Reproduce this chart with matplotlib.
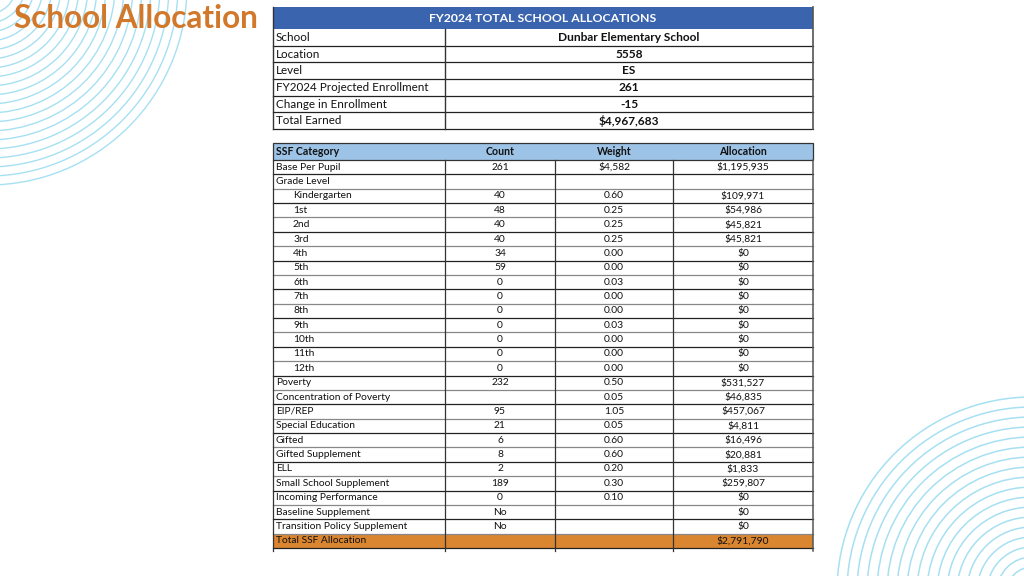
import matplotlib
matplotlib.use("Agg")
import matplotlib.pyplot as plt
from matplotlib.patches import Rectangle, Circle

# ---------------- data ----------------
title = "School Allocation"
top_header = "FY2024 TOTAL SCHOOL ALLOCATIONS"
top_labels = ["School", "Location", "Level", "FY2024 Projected Enrollment",
              "Change in Enrollment", "Total Earned"]
top_values = ["Dunbar Elementary School", "5558", "ES", "261", "-15", "$4,967,683"]

col_headers = ["SSF Category", "Count", "Weight", "Allocation"]
categories = ["Base Per Pupil", "Grade Level", "Kindergarten", "1st", "2nd", "3rd",
              "4th", "5th", "6th", "7th", "8th", "9th", "10th", "11th", "12th",
              "Poverty", "Concentration of Poverty", "EIP/REP", "Special Education",
              "Gifted", "Gifted Supplement", "ELL", "Small School Supplement",
              "Incoming Performance", "Baseline Supplement",
              "Transition Policy Supplement", "Total SSF Allocation"]
indented = ["Kindergarten", "1st", "2nd", "3rd", "4th", "5th", "6th", "7th",
            "8th", "9th", "10th", "11th", "12th"]
counts = ["261", "", "40", "48", "40", "40", "34", "59", "0", "0", "0", "0", "0",
          "0", "0", "232", "", "95", "21", "6", "8", "2", "189", "0", "No", "No", ""]
weights = ["$4,582", "", "0.60", "0.25", "0.25", "0.25", "0.00", "0.00", "0.03",
           "0.00", "0.00", "0.03", "0.00", "0.00", "0.00", "0.50", "0.05", "1.05",
           "0.05", "0.60", "0.60", "0.20", "0.30", "0.10", "", "", ""]
allocations = ["$1,195,935", "", "$109,971", "$54,986", "$45,821", "$45,821", "$0",
               "$0", "$0", "$0", "$0", "$0", "$0", "$0", "$0", "$531,527",
               "$46,835", "$457,067", "$4,811", "$16,496", "$20,881", "$1,833",
               "$259,807", "$0", "$0", "$0", "$2,791,790"]

# ---------------- style ----------------
FONT = "Lato"
ORANGE_T = "#D2782A"
BLUE_H = "#3A64AE"
LBLUE_H = "#9DC3E6"
ORANGE_R = "#DA8530"
ARC = "#A6E0F2"

fig = plt.figure(figsize=(10.24, 5.76), dpi=100)
ax = fig.add_axes([0, 0, 1, 1])
ax.set_xlim(0, 1024)
ax.set_ylim(576, 0)
ax.axis("off")

# background arcs
for r in range(28, 200, 9):
    ax.add_patch(Circle((-12, -14), r, fill=False, ec=ARC, lw=1.0, zorder=0))
for r in range(25, 200, 10):
    ax.add_patch(Circle((1032, 592), r, fill=False, ec=ARC, lw=1.1, zorder=0))

ax.text(14, 19, title, color=ORANGE_T, fontsize=22.7, fontweight="bold",
        family=FONT, va="center", ha="left", zorder=5)

# ---------------- top table ----------------
x0, x1, xs = 273, 813, 445
ax.add_patch(Rectangle((x0, 7), x1 - x0, 22, fc=BLUE_H, ec="none", zorder=1))
ax.text((x0 + x1) / 2, 18.5, top_header, color="white", fontsize=8.8, fontweight="bold",
        family=FONT, ha="center", va="center", zorder=3)
rh = (129 - 29) / len(top_labels)
for i, (lab, val) in enumerate(zip(top_labels, top_values)):
    yt = 29 + i * rh
    ax.text(x0 + 3, yt + rh / 2, lab, fontsize=8.4, family=FONT, color="#111111",
            ha="left", va="center", zorder=3)
    ax.text((xs + x1) / 2, yt + rh / 2, val, fontsize=8.6, family=FONT, color="#111111",
            fontweight="bold", ha="center", va="center", zorder=3)
    ax.plot([x0, x1], [yt + rh, yt + rh], color="#222222", lw=0.9, zorder=2)
ax.plot([x0, x0], [7, 129], color="#333333", lw=1.0, zorder=2)
ax.plot([x1, x1], [7, 129], color="#555555", lw=1.2, zorder=2)
ax.plot([xs, xs], [29, 129], color="#333333", lw=1.0, zorder=2)

# ---------------- SSF table ----------------
cols = [273, 445, 555, 673, 813]
hy0, hy1 = 143, 160
ax.add_patch(Rectangle((cols[0], hy0), cols[-1] - cols[0], hy1 - hy0, fc=LBLUE_H,
                       ec="#333333", lw=0.9, zorder=1))
for j, h in enumerate(col_headers):
    if j == 0:
        ax.text(cols[0] + 3, (hy0 + hy1) / 2, h, fontsize=7.6, fontweight="bold",
                family=FONT, color="#111111", ha="left", va="center", zorder=3)
    else:
        ax.text((cols[j] + cols[j + 1]) / 2, (hy0 + hy1) / 2, h, fontsize=7.6,
                fontweight="bold", family=FONT, color="#111111", ha="center",
                va="center", zorder=3)

n = len(categories)
y_end = 548
rh2 = (y_end - hy1) / n
for i in range(n):
    yt = hy1 + i * rh2
    yc = yt + rh2 / 2
    if i == n - 1:
        ax.add_patch(Rectangle((cols[0], yt), cols[-1] - cols[0], rh2, fc=ORANGE_R,
                               ec="none", zorder=1))
    cat = categories[i]
    xx = cols[0] + (20 if cat in indented else 3)
    ax.text(xx, yc, cat, fontsize=7.35, family=FONT, color="#111111",
            ha="left", va="center", zorder=3)
    for j, v in enumerate([counts[i], weights[i], allocations[i]]):
        ax.text((cols[j + 1] + cols[j + 2]) / 2, yc, v, fontsize=7.35, family=FONT,
                color="#111111", ha="center", va="center", zorder=3)
    lc = "#222222" if i % 2 == 0 else "#888888"
    ax.plot([cols[0], cols[-1]], [yt + rh2, yt + rh2], color=lc, lw=0.9, zorder=2)

for k, xv in enumerate(cols):
    ax.plot([xv, xv], [hy1, y_end + 3], color="#555555" if k == 4 else "#333333",
            lw=1.1 if k == 4 else 0.9, zorder=2)

fig.savefig("out.png", dpi=100, facecolor="white")
